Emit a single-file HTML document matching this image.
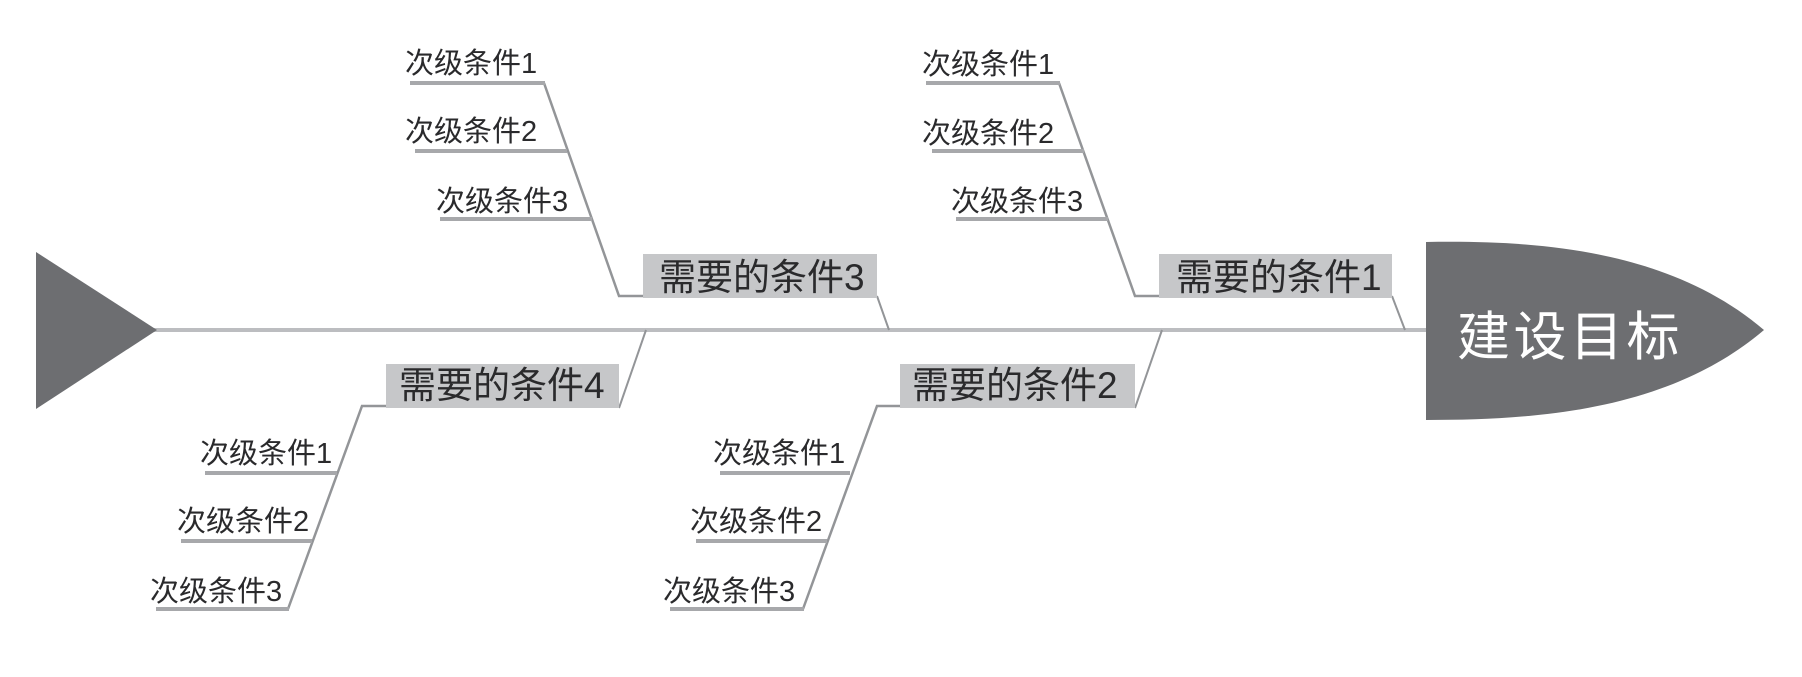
<!DOCTYPE html>
<html lang="zh">
<head>
<meta charset="utf-8">
<style>
html,body{margin:0;padding:0;background:#fff;width:1802px;height:677px;overflow:hidden}
svg{display:block}
text{font-family:"Liberation Sans","Noto Sans CJK SC",sans-serif;fill:#2a2a2c}
.s{font-size:29px}
.b{font-size:37px}
.h{font-size:53px;fill:#fff;letter-spacing:3.5px}
.sec{stroke:#a7a8ab;stroke-width:4;fill:none}
.dia{stroke:#939598;stroke-width:2.5;fill:none}
.thin{stroke:#939598;stroke-width:2;fill:none}
.box{fill:#c6c7c9}
</style>
</head>
<body>
<svg width="1802" height="677" viewBox="0 0 1802 677" xmlns="http://www.w3.org/2000/svg">
<rect width="1802" height="677" fill="#fff"/>
<!-- spine -->
<rect x="150" y="328" width="1280" height="4" fill="#bcbdc0"/>
<!-- tail -->
<polygon points="36,252 157,330 36,409" fill="#6d6e71"/>
<!-- head -->
<path d="M1426,242 C1540,240 1670,250 1764,330 C1670,410 1540,420 1426,420 Z" fill="#6d6e71"/>
<text class="h" x="1457" y="355">建设目标</text>

<!-- branch 3 -->
<path class="dia" d="M544,83 L619,296 L643,296"/>
<path class="thin" d="M877,296 L889,330"/>
<path class="sec" d="M410,83 H545"/>
<path class="sec" d="M415,151 H567"/>
<path class="sec" d="M440,219 H592"/>
<rect class="box" x="643" y="254" width="234" height="44"/>
<text class="s" x="405" y="73">次级条件1</text>
<text class="s" x="405" y="141">次级条件2</text>
<text class="s" x="436" y="211">次级条件3</text>
<text class="b" x="659" y="290">需要的条件3</text>

<!-- branch 1 -->
<path class="dia" d="M1059,83 L1135,296 L1159,296"/>
<path class="thin" d="M1392,296 L1405,330"/>
<path class="sec" d="M926,83 H1060"/>
<path class="sec" d="M932,151 H1084"/>
<path class="sec" d="M956,219 H1108"/>
<rect class="box" x="1159" y="254" width="233" height="44"/>
<text class="s" x="922" y="74">次级条件1</text>
<text class="s" x="922" y="143">次级条件2</text>
<text class="s" x="951" y="211">次级条件3</text>
<text class="b" x="1176" y="290">需要的条件1</text>

<!-- branch 4 -->
<path class="thin" d="M646,330 L619,408"/>
<path class="dia" d="M386,406 L362,406 L288,609"/>
<path class="sec" d="M205,473 H337"/>
<path class="sec" d="M181,541 H312"/>
<path class="sec" d="M156,609 H289"/>
<rect class="box" x="386" y="364" width="233" height="44"/>
<text class="s" x="200" y="463">次级条件1</text>
<text class="s" x="177" y="531">次级条件2</text>
<text class="s" x="150" y="601">次级条件3</text>
<text class="b" x="399" y="398">需要的条件4</text>

<!-- branch 2 -->
<path class="thin" d="M1162,330 L1135,408"/>
<path class="dia" d="M900,406 L877,406 L803,609"/>
<path class="sec" d="M720,473 H850"/>
<path class="sec" d="M696,541 H827"/>
<path class="sec" d="M670,609 H804"/>
<rect class="box" x="900" y="364" width="235" height="44"/>
<text class="s" x="713" y="463">次级条件1</text>
<text class="s" x="690" y="531">次级条件2</text>
<text class="s" x="663" y="601">次级条件3</text>
<text class="b" x="912" y="398">需要的条件2</text>
</svg>
</body>
</html>
